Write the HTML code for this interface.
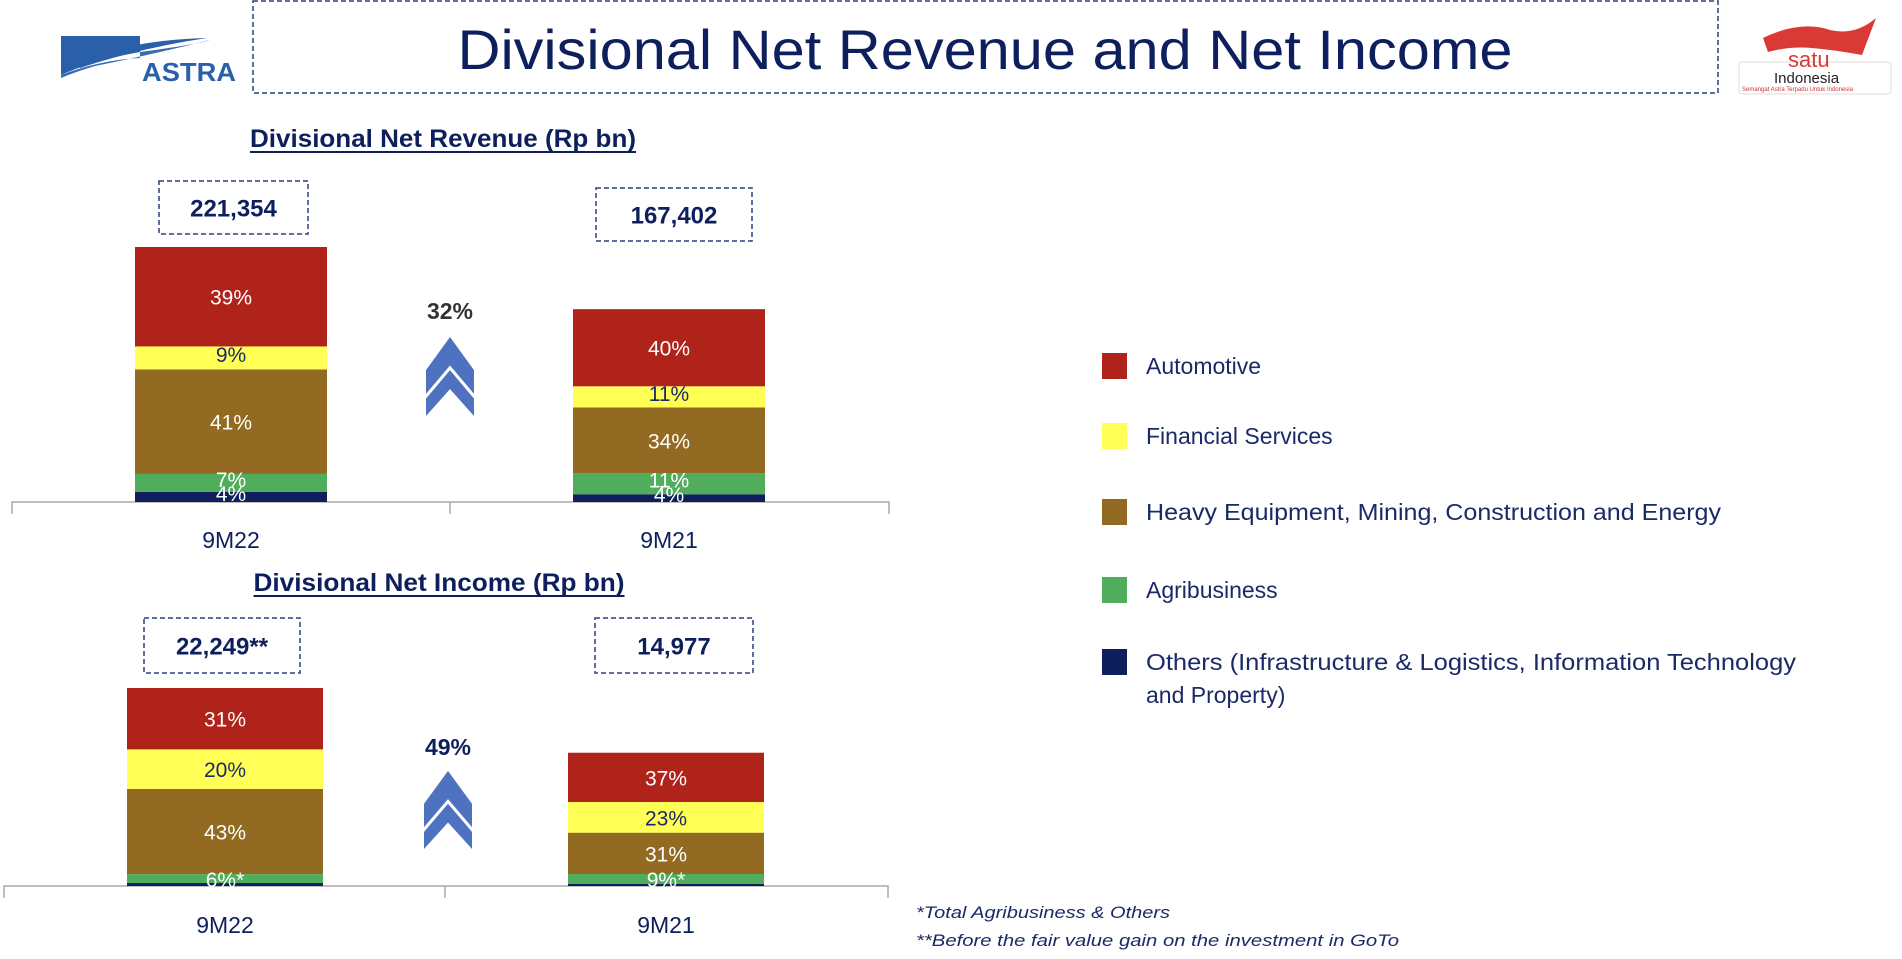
<!DOCTYPE html>
<html><head><meta charset="utf-8"><style>
html,body{margin:0;padding:0;background:#fff;}
svg{display:block;font-family:"Liberation Sans",sans-serif;}
</style></head><body>
<svg id="s" width="1902" height="959" viewBox="0 0 1902 959">
<g>
<path d="M61,36 L140,36 L140,52 Q95,60 61,75 Z" fill="#2a5faa"/>
<path d="M78,62 Q130,40 207,38 Q140,48 80,68 Z" fill="#2a5faa"/>
<path d="M61,75 Q100,60 140,58 L140,52 Q200,44 210,40 Q150,55 95,66 Q75,72 61,78 Z" fill="#3a6cb5"/>
<text x="142" y="81" font-size="26" font-weight="bold" fill="#2a5faa" textLength="94" lengthAdjust="spacingAndGlyphs">ASTRA</text>
</g>
<rect x="253" y="1" width="1465" height="92" fill="none" stroke="#2d3f80" stroke-width="1.5" stroke-dasharray="5,3"/>
<text x="985" y="69" font-size="56" fill="#0d1f5c" text-anchor="middle" textLength="1055" lengthAdjust="spacingAndGlyphs">Divisional Net Revenue and Net Income</text>
<g>
<path d="M1763,38 Q1800,20 1830,30 Q1855,36 1876,18 L1862,55 Q1835,50 1812,48 Q1790,46 1768,52 Z" fill="#d93a36"/>
<rect x="1739" y="62" width="152" height="32" rx="3" fill="none" stroke="#ddd" stroke-width="1"/>
<text x="1788" y="67" font-size="22" fill="#d93a36">satu</text>
<text x="1774" y="83" font-size="15" fill="#222">Indonesia</text>
<text x="1742" y="91" font-size="6" fill="#c33">Semangat Astra Terpadu Untuk Indonesia</text>
</g>
<g id="legend"></g>
<text x="916" y="918" font-size="17" font-style="italic" fill="#1a2a66" textLength="254" lengthAdjust="spacingAndGlyphs">*Total Agribusiness &amp; Others</text>
<text x="916" y="946" font-size="17" font-style="italic" fill="#1a2a66" textLength="483" lengthAdjust="spacingAndGlyphs">**Before the fair value gain on the investment in GoTo</text>
</svg>
<script>
const categories = ["9M22", "9M21"];
const segmentNames = ["Automotive", "Financial Services", "Heavy Equipment, Mining, Construction and Energy", "Agribusiness", "Others"];
const revenueTotals = [221354, 167402];
const revenueTotalLabels = ["221,354", "167,402"];
const revenueAuto = [39, 40];
const revenueFin = [9, 11];
const revenueHeavy = [41, 34];
const revenueAgri = [7, 11];
const revenueOthers = [4, 4];
const revenueGrowth = "32%";
const incomeTotals = [22249, 14977];
const incomeTotalLabels = ["22,249**", "14,977"];
const incomeAuto = [31, 37];
const incomeFin = [20, 23];
const incomeHeavy = [43, 31];
const incomeAgri = [4.5, 7.5];
const incomeOthers = [1.5, 1.5];
const incomeAgriOthersLabels = ["6%*", "9%*"];
const incomeGrowth = "49%";

const NS = "http://www.w3.org/2000/svg";
const svg = document.getElementById("s");
const colors = ["#b0231a", "#ffff55", "#936a22", "#50ad5c", "#0e1f5c"];
const labelColors = ["#fff", "#1a2a66", "#fff", "#fff", "#fff"];
function mk(tag, attrs, parent) {
  const e = document.createElementNS(NS, tag);
  for (const k in attrs) e.setAttribute(k, attrs[k]);
  (parent || svg).appendChild(e);
  return e;
}
function drawChart(cfg) {
  const g = mk("g", {});
  
  
  const maxV = Math.max(...cfg.totals);
  const y = v => cfg.base - v / maxV * cfg.maxH;
  const h = mk("text", {x: cfg.headX, y: cfg.headY, "font-size": 25, "font-weight": "bold", fill: "#0d1f5c", "text-anchor": "middle", textLength: cfg.headW, lengthAdjust: "spacingAndGlyphs"}, g);
  h.textContent = cfg.heading;
  
  
  const ul = mk("line", {x1: cfg.headX - cfg.headW/2, x2: cfg.headX + cfg.headW/2, y1: cfg.headY + 5, y2: cfg.headY + 5, stroke: "#0d1f5c", "stroke-width": 2}, g);
  
  
  const ax = mk("path", {d: `M${cfg.axL},${cfg.base+12}V${cfg.base}H${cfg.axR}V${cfg.base+12}M${cfg.axM},${cfg.base}V${cfg.base+12}`, fill: "none", stroke: "#aaa", "stroke-width": 1.5}, g);
  
  
  categories.forEach((c, i) => {
    const total = cfg.totals[i];
    let acc = 0;
    const pcts = cfg.series.map(s => s[i]);
    const sum = pcts.reduce((a, b) => a + b, 0);
    const segs = [];
    for (let k = pcts.length - 1; k >= 0; k--) {
      const v0 = acc, v1 = acc + pcts[k] / sum * total;
      acc = v1;
      const r = mk("rect", {x: cfg.barX[i], width: cfg.barW, y: y(v1), height: y(v0) - y(v1), fill: colors[k]}, g);
      
      
      segs[k] = [y(v1), y(v0)];
    }
    const cx = cfg.barX[i] + cfg.barW / 2;
    for (let k = 0; k < pcts.length; k++) {
      let label;
      let ly;
      if (cfg.combined && k === 3) {
        label = cfg.combined[i];
        ly = (segs[3][0] + segs[4][1]) / 2 + 7;
      } else if (cfg.combined && k === 4) { continue; }
      else {
        label = pcts[k] + "%";
        const hgt = segs[k][1] - segs[k][0];
        ly = (segs[k][0] + segs[k][1]) / 2 + 8 - (hgt < 25 ? 4 : 0);
      }
      const t = mk("text", {x: cx, y: ly, "font-size": 21, fill: labelColors[k], "text-anchor": "middle"}, g);
      t.textContent = label;
      
      
    }
    const b = mk("rect", {x: cfg.boxX[i], y: cfg.boxY[i], width: cfg.boxW[i], height: cfg.boxH, fill: "none", stroke: "#2d3f80", "stroke-width": 1.5, "stroke-dasharray": "5,3"}, g);
    
    
    const tt = mk("text", {x: cfg.boxX[i] + cfg.boxW[i] / 2, y: cfg.boxY[i] + cfg.boxH / 2 + 9, "font-size": 24, "font-weight": "bold", fill: "#0d1f5c", "text-anchor": "middle"}, g);
    tt.textContent = cfg.totalLabels[i];
    
    
    const cl = mk("text", {x: cx, y: cfg.catY, "font-size": 23, fill: "#0d1f5c", "text-anchor": "middle"}, g);
    cl.textContent = c;
    
    
  });
  const gt = mk("text", {x: cfg.growX, y: cfg.growY, "font-size": 23, "font-weight": "bold", fill: cfg.growColor, "text-anchor": "middle"}, g);
  gt.textContent = cfg.growth;
  
  
  const x0 = cfg.growX - 24, x1 = cfg.growX + 24, xm = cfg.growX;
  const t0 = cfg.chevY, hh = cfg.chevH;
  const p = `M${x0},${t0+hh*0.42} L${xm},${t0} L${x1},${t0+hh*0.42} L${x1},${t0+hh*0.72} L${xm},${t0+hh*0.36} L${x0},${t0+hh*0.72} Z
    M${x0},${t0+hh*0.78} L${xm},${t0+hh*0.42} L${x1},${t0+hh*0.78} L${x1},${t0+hh} L${xm},${t0+hh*0.66} L${x0},${t0+hh} Z`;
  const ch = mk("path", {d: p, fill: "#4f72c0"}, g);
  
  
}
drawChart({name: "net-revenue-chart", heading: "Divisional Net Revenue (Rp bn)", headX: 443, headY: 147, headW: 386,
  totals: revenueTotals, totalLabels: revenueTotalLabels, series: [revenueAuto, revenueFin, revenueHeavy, revenueAgri, revenueOthers],
  base: 502, maxH: 255, barX: [135, 573], barW: 192, axL: 12, axR: 889, axM: 450, catY: 548,
  boxX: [159, 596], boxY: [181, 188], boxW: [149, 156], boxH: 53,
  growth: revenueGrowth, growX: 450, growY: 319, growColor: "#333", chevY: 337, chevH: 79});
drawChart({name: "net-income-chart", heading: "Divisional Net Income (Rp bn)", headX: 439, headY: 591, headW: 371,
  totals: incomeTotals, totalLabels: incomeTotalLabels, series: [incomeAuto, incomeFin, incomeHeavy, incomeAgri, incomeOthers],
  combined: incomeAgriOthersLabels,
  base: 886, maxH: 198, barX: [127, 568], barW: 196, axL: 4, axR: 888, axM: 445, catY: 933,
  boxX: [144, 595], boxY: [618, 618], boxW: [156, 158], boxH: 55,
  growth: incomeGrowth, growX: 448, growY: 755, growColor: "#0d1f5c", chevY: 771, chevH: 78});

const legendY = [366, 436, 512, 590, 662];
const legendText = ["Automotive", "Financial Services", "Heavy Equipment, Mining, Construction and Energy", "Agribusiness", "Others (Infrastructure & Logistics, Information Technology"];
const lg = document.getElementById("legend");
legendText.forEach((t, i) => {
  const r = mk("rect", {x: 1102, y: legendY[i] - 13, width: 25, height: 26, fill: colors[i]}, lg);
  
  
  const tx = mk("text", {x: 1146, y: legendY[i] + 8, "font-size": 23, fill: "#1a2a66"}, lg);
  tx.textContent = t;
  
  
  if (i === 2) { tx.setAttribute("textLength", 575); tx.setAttribute("lengthAdjust", "spacingAndGlyphs"); }
  if (i === 4) { tx.setAttribute("textLength", 650); tx.setAttribute("lengthAdjust", "spacingAndGlyphs"); }
});
const t2 = mk("text", {x: 1146, y: 703, "font-size": 23, fill: "#1a2a66"}, lg);
t2.textContent = "and Property)";


</script>
</body></html>
